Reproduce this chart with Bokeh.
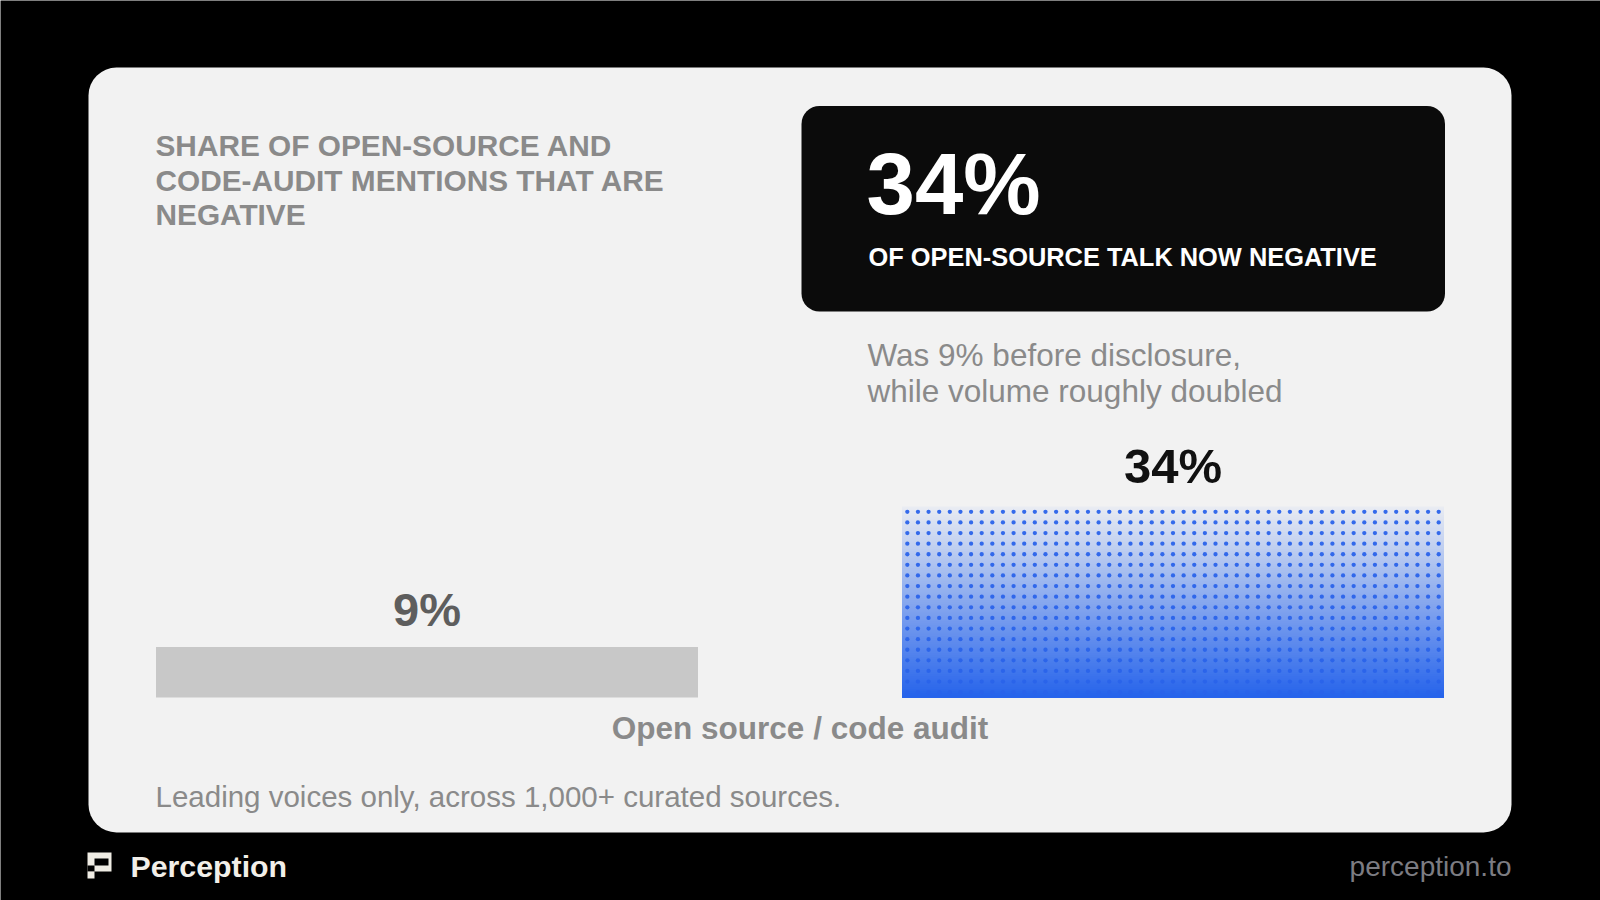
import numpy as np
from bokeh.plotting import figure
from bokeh.models import BoxAnnotation, Label, ColumnDataSource
from bokeh.embed import file_html
from bokeh.resources import INLINE

# ---------------- data ----------------
categories = ["Before disclosure", "After disclosure"]
values = [9, 34]
value_labels = ["9%", "34%"]
axis_label = "Open source / code audit"
title_lines = ["SHARE OF OPEN-SOURCE AND", "CODE-AUDIT MENTIONS THAT ARE", "NEGATIVE"]
kpi_value = "34%"
kpi_caption = "OF OPEN-SOURCE TALK NOW NEGATIVE"
note_lines = ["Was 9% before disclosure,", "while volume roughly doubled"]
footnote = "Leading voices only, across 1,000+ curated sources."
brand = "Perception"
url = "perception.to"

# ---------------- layout (page pixels) ----------------
W, H = 1600, 900
OFF = 0                 # observed page offset of the figure
BAR0_CX = 426.5         # page x of first bar centre
BAR_PITCH = 746.0       # px between bar centres (1 data unit)
BAR_W_PX = 542.0
BASE_Y = 697.0          # page y of bar baseline
PX_PER_PCT = 191.0 / 34.0
DOT_PITCH = 10.63
BASELINE_K = 0.37       # renderer places 'alphabetic' text this many em lower

FONT = "Liberation Sans"
BLUE = (37, 99, 235)
CARD = (242, 242, 242)


def X(px):
    return (px - BAR0_CX) / BAR_PITCH


def Y(py):
    return (BASE_Y - py) / PX_PER_PCT


p = figure(width=W, height=H,
           x_range=(X(OFF), X(OFF + W)), y_range=(Y(OFF + H), Y(OFF)),
           output_backend="svg", toolbar_location=None,
           x_axis_location=None, y_axis_location=None,
           min_border=0, background_fill_color="#000000",
           border_fill_color="#000000", outline_line_color=None)
for g in p.grid:
    g.visible = False

# card and KPI box
p.add_layout(BoxAnnotation(left=X(88), right=X(1511), top=Y(67), bottom=Y(832),
                           fill_color="#f2f2f2", fill_alpha=1, line_color=None,
                           border_radius=28, level="underlay"))
p.add_layout(BoxAnnotation(left=X(801), right=X(1444.5), top=Y(105.5), bottom=Y(311),
                           fill_color="#0b0b0b", fill_alpha=1, line_color=None,
                           border_radius=18, level="underlay"))

bar_w = BAR_W_PX / BAR_PITCH
xs = list(range(len(values)))

# before bar (grey)
p.vbar(x=[xs[0]], top=[values[0]], width=bar_w, fill_color="#c8c8c8", line_color=None)

# after bar: vertical gradient built from slices of the bar value
N = 90
v = values[1]
edges = np.linspace(0, v, N + 1)
tops, cols = [], []
for i in range(N - 1, -1, -1):
    t = (edges[i] + edges[i + 1]) / 2 / v
    a = 1.0 - 0.96 * t
    c = tuple(int(round(CARD[k] * (1 - a) + BLUE[k] * a)) for k in range(3))
    tops.append(edges[i + 1])
    cols.append("#%02x%02x%02x" % c)
grad = ColumnDataSource(dict(left=[xs[1] - bar_w / 2] * N, right=[xs[1] + bar_w / 2] * N,
                             bottom=[0] * N, top=tops, color=cols))
p.quad(left="left", right="right", bottom="bottom", top="top", fill_color="color",
       line_color=None, source=grad)

# dot texture over the after bar
ncols = int(round(BAR_W_PX / DOT_PITCH))
nrows = int(round(v * PX_PER_PCT / DOT_PITCH))
cw = bar_w / ncols
ch = v / nrows
dx, dy = [], []
for r in range(nrows):
    for c in range(ncols):
        dx.append(xs[1] - bar_w / 2 + (c + 0.5) * cw)
        dy.append((r + 0.5) * ch)
p.scatter(dx, dy, size=4.3, marker="circle", fill_color="#2a63ea", line_color=None, fill_alpha=0.95)


def label(x, base_py, text, size, color, bold=False, align="left", data_y=None):
    if data_y is None:
        y = Y(base_py - BASELINE_K * size)
    else:
        y = data_y + BASELINE_K * size / PX_PER_PCT
    p.add_layout(Label(x=x, y=y, text=text, text_font=FONT, text_font_size=f"{size}px",
                       text_color=color, text_font_style="bold" if bold else "normal",
                       text_align=align, text_baseline="alphabetic"))


# value labels above bars
label_colors = ["#5e5e5e", "#111111"]
label_sizes = [47, 49]
label_gaps = [20.5, 22.5]
for i, (val, lab) in enumerate(zip(values, value_labels)):
    label(xs[i], None, lab, label_sizes[i], label_colors[i], True, "center",
          data_y=val + label_gaps[i] / PX_PER_PCT)

# titles / texts
for i, line in enumerate(title_lines):
    label(X(155), 156 + 34.65 * i, line, 29.8, "#8a8a8a", True)
label(X(866), 215, kpi_value, 87, "#ffffff", True)
label(X(868), 266, kpi_caption, 25.4, "#ffffff", True)
for i, line in enumerate(note_lines):
    label(X(867), 366.5 + 36 * i, line, 31.5, "#8a8a8a")
label(X(799.5), 739.5, axis_label, 31.5, "#8a8a8a", True, "center")
label(X(155), 807, footnote, 29.5, "#8a8a8a")

# footer brand
ICON = "#efece4"
icon_parts = [(87, 852, 111, 871, ICON), (94, 858, 108, 865, "#000000"),
              (87, 865, 94, 871, "#000000"), (87, 871, 94, 878, ICON)]
for (l, t, r, b, col) in icon_parts:
    p.quad(left=[X(l)], right=[X(r)], top=[Y(t)], bottom=[Y(b)], fill_color=col, line_color=None)
label(X(130), 877, brand, 30.3, "#f2efe9", True)
label(X(1511), 876, url, 28, "#7c7c82", False, "right")

open("out.html", "w").write(file_html(p, INLINE))
